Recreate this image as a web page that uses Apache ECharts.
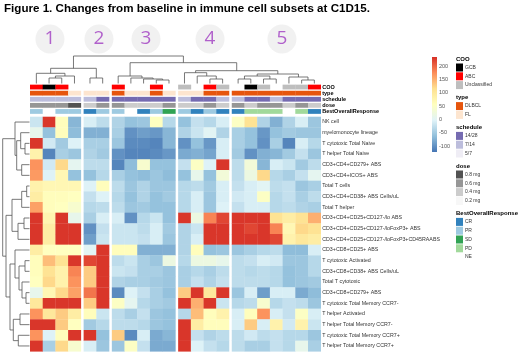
<!DOCTYPE html>
<html>
<head>
<meta charset="utf-8">
<script src="https://cdn.jsdelivr.net/npm/echarts@6/dist/echarts.min.js"></script>
<style>
  html, body { margin: 0; padding: 0; background: #fff; }
  #chart { width: 520px; height: 352px; }
</style>
</head>
<body>
<div id="chart"></div>
<script>
  const FONT = '"Liberation Sans", Arial, Helvetica, sans-serif';

  const titleText = 'Figure 1. Changes from baseline in immune cell subsets at C1D15.';

  const rowLabels = [
    'NK cell',
    'myelomonocyte lineage',
    'T cytotoxic Total Naive',
    'T helper Total Naive',
    'CD3+CD4+CD279+ ABS',
    'CD3+CD4+ICOS+ ABS',
    'Total T cells',
    'CD3+CD4+CD38+ ABS Cells/uL',
    'Total T helper',
    'CD3+CD4+CD25+CD127-/lo ABS',
    'CD3+CD4+CD25+CD127-/loFoxP3+ ABS',
    'CD3+CD4+CD25+CD127-/loFoxP3+CD45RAABS',
    'CD3+CD8+CD25+ ABS',
    'T cytotoxic Activated',
    'CD3+CD8+CD38+ ABS Cells/uL',
    'Total T cytotoxic',
    'CD3+CD8+CD279+ ABS',
    'T cytotoxic Total Memory CCR7-',
    'T helper Activated',
    'T helper Total Memory CCR7-',
    'T cytotoxic Total Memory CCR7+',
    'T helper Total Memory CCR7+'
  ];

  // column clusters, left to right
  const groupSizes = [4, 2, 5, 4, 7];
  const clusterLabels = ['1', '2', '3', '4', '5'];
  const clusterLabelAt = [1.57, 5.43, 9.13, 14.17, 19.83];

  // % change from baseline, one array per row (22 columns)
  const heatValues = [
    [-20, 230, 60, -70,  -10, -30,  -40, -60, -55, 55, -35,  -60, -25, -35, -10,  50, 110, -40, -75, -40, -10, -55],
    [10, -60, 60, -65,  -75, -75,  -45, -100, -90, -95, -70,  -40, -20, 0, -40,  -45, -60, -95, -60, -50, -55, -55],
    [230, -15, -50, -5,  -45, -45,  -55, -105, -105, -110, -70,  -100, -60, -95, -10,  -45, -60, -100, -45, -110, -10, -35],
    [80, -110, -45, -55,  -40, -50,  -100, -110, -110, -105, -95,  -80, -75, -85, -10,  -50, -100, -75, -70, -50, -25, -55],
    [170, -15, 120, 5,  -30, -30,  -110, -65, 40, -60, -60,  -25, 50, -5, 230,  -30, 30, -70, -10, -20, -50, -30],
    [165, -5, 70, -60,  -60, -35,  -45, -60, -65, -55, -65,  -60, 10, -60, 30,  -30, 20, 120, -35, -45, -25, 5],
    [80, 70, 70, 70,  -5, 60,  -30, -55, -40, -55, -55,  -35, -30, -50, -10,  -25, -10, 0, -30, -25, -55, -45],
    [90, 60, 60, 55,  -25, -5,  -35, -60, -40, -60, -50,  -35, -10, -55, -10,  -15, -10, 50, -35, -25, -45, -30],
    [160, 60, 55, 40,  -35, -30,  -30, -55, -50, -60, -60,  -35, -10, -55, -5,  -25, -10, -10, -35, -30, -40, -45],
    [230, 75, 230, 10,  -45, -10,  -10, -100, -35, -20, -60,  230, 20, 180, 220,  230, 230, 230, 110, 90, 110, 150],
    [230, 90, 230, 230,  -100, -25,  -20, -20, -30, -10, -50,  -40, -20, 230, 230,  230, 220, 230, 180, 70, 120, 110],
    [230, 90, 230, 230,  -90, -20,  -20, -20, -25, -10, -55,  -40, -10, 230, 230,  230, 230, 230, 220, 80, 100, 90],
    [90, 55, 55, 55,  0, 230,  60, 60, -75, -75, -75,  -40, 60, -60, -55,  -55, -45, -35, -30, -65, -65, -10],
    [60, 140, 110, 230,  220, 230,  -30, -20, -45, -55, 20,  -35, 20, 20, 10,  -30, -25, -10, -15, -55, -55, -35],
    [60, 110, 80, 180,  130, 230,  -20, -25, -45, -45, -55,  -45, -35, -45, -30,  -30, -35, -30, -35, -60, -55, -35],
    [55, 120, 80, 170,  130, 230,  -40, -45, -45, -50, -55,  -45, -25, -40, -25,  -30, -30, -30, -35, -60, -55, -50],
    [10, 70, 120, 160,  190, 230,  -105, -5, -25, -45, -60,  130, 230, 100, 230,  -55, -10, -90, -10, -10, -80, -65],
    [100, 230, 230, 230,  130, 230,  50, 5, -35, -45, -50,  230, 150, 230, -20,  -35, -30, 40, -35, -25, -30, -55],
    [170, 100, 130, 90,  60, -20,  -30, -45, -25, -55, -60,  -35, 140, 60, 80,  -10, 60, 170, -10, -25, 50, -10],
    [230, 230, 130, 55,  -50, -35,  -30, -30, -35, -55, -60,  230, 90, 60, 60,  -10, 130, -10, 80, -15, 80, -20],
    [170, -5, 60, 230,  230, -60,  130, -105, -10, -80, -70,  230, -25, -40, -30,  -30, -15, -30, -25, -35, -35, -55],
    [230, -45, 120, 40,  -10, -55,  -55, 50, -25, -80, -80,  230, -5, -25, -35,  -30, -45, -45, -25, -35, 10, -45]
  ];
  const heatMin = -122.5;
  const heatMax = 233.75;
  const barTicks = [-100, -50, 0, 50, 100, 150, 200];

  // column annotations
  const annotationNames = ['COO', 'type', 'schedule', 'dose', 'BestOverallResponse'];
  const cooVals = ['ABC', 'GCB', 'ABC', null, null, null, 'ABC', null, null, 'ABC', null,
    'Unclassified', null, 'ABC', 'Unclassified', null, 'GCB', 'Unclassified', null, 'Unclassified', 'Unclassified', 'ABC'];
  const typeVals = ['DLBCL', 'DLBCL', 'DLBCL', 'FL', 'FL', 'FL', 'DLBCL', 'FL', 'FL', 'DLBCL', 'FL',
    'FL', 'FL', 'DLBCL', 'DLBCL', 'DLBCL', 'DLBCL', 'DLBCL', 'DLBCL', 'DLBCL', 'DLBCL', 'DLBCL'];
  const scheduleVals = ['7/14', '7/14', '7/14', '7/14', '7/14', '14/28', '14/28', '14/28', '14/28', '14/28', '14/28',
    '7/14', '14/28', '14/28', '7/14', '7/14', '14/28', '14/28', '7/14', '14/28', '14/28', '14/28'];
  const doseVals = ['0.6 mg', '0.6 mg', '0.6 mg', '0.8 mg', '0.4 mg', '0.6 mg', '0.6 mg', '0.4 mg', '0.4 mg', '0.4 mg', '0.6 mg',
    '0.4 mg', '0.4 mg', '0.6 mg', '0.4 mg', '0.6 mg', '0.4 mg', '0.6 mg', '0.6 mg', '0.4 mg', '0.6 mg', '0.4 mg'];
  const borVals = ['PR', 'NE', 'PR', 'PR', 'CR', 'PR', 'PR', 'NE', 'CR', 'PR', 'SD',
    'PR', 'CR', 'PR', 'CR', 'CR', 'PD', 'PD', 'PD', 'NE', 'PD', 'CR'];

  const cooLevels = ['GCB', 'ABC', 'Unclassified'];
  const typeLevels = ['DLBCL', 'FL'];
  const scheduleLevels = ['14/28', '7/14', '5/7'];
  const doseLevels = ['0.8 mg', '0.6 mg', '0.4 mg', '0.2 mg'];
  const borLevels = ['CR', 'PR', 'SD', 'PD', 'NE'];

  // hclust-style merges: negative = leaf (1-based), positive = earlier merge; third value = height
  const colMerges = [
    [-2, -3, 5.5], [1, -4, 7.5], [-1, 2, 10.2], [-5, -6, 5.5], [3, 4, 15.2],
    [-10, -11, 3.5], [-9, 6, 4.5], [-8, 7, 5.5], [-7, 8, 7.5],
    [-14, -15, 4.5], [-13, 10, 7.5], [-12, 11, 10.8],
    [-16, -17, 4.5], [-18, -19, 4.5], [13, 14, 7.5], [-21, -22, 3.5], [-20, 16, 6.5], [15, 17, 9.5],
    [12, 18, 12.8], [9, 19, 20.8], [5, 20, 27.5]
  ];
  const rowMerges = [
    [-3, -4, 4.5], [-2, 1, 8.8], [-5, -6, 7.8], [2, 3, 12.8], [-1, 4, 14.5],
    [-7, -8, 2.8], [6, -9, 7.8], [-10, -11, 5.5], [8, -12, 11.5], [7, 9, 17.5],
    [-14, -15, 4.5], [-17, -18, 3.5], [-16, 12, 7.5], [11, 13, 10.5], [-13, 14, 14.5],
    [-19, -20, 9.5], [-21, -22, 11.2], [16, 17, 16.2], [15, 18, 19.5], [10, 19, 23.5], [5, 20, 26.8]
  ];

  // styles
  const heatPalette = ['#4575B4', '#91BFDB', '#E0F3F8', '#FFFFBF', '#FEE090', '#FC8D59', '#D73027'];
  const cooColors = ['#000000', '#FF0000', '#BEBEBE'];
  const typeColors = ['#E6550D', '#FDE5CF'];
  const scheduleColors = ['#756BB1', '#BCBDDC', '#EFEDF5'];
  const doseColors = ['#525252', '#969696', '#CCCCCC', '#F7F7F7'];
  const borColors = ['#3182BD', '#9ECAE1', '#31A354', '#A1D99B', '#FFFFFF'];

  // layout
  const GAP = 0.22;
  const colStart = [];
  groupSizes.forEach((n, g) => {
    for (let i = 0; i < n; i++) colStart.push(colStart.length + g * GAP);
  });
  const xMax = colStart.length + (groupSizes.length - 1) * GAP;
  const colCenter = colStart.map(x => x + 0.5);
  const rowCenter = rowLabels.map((_, i) => i + 0.5);

  const heatData = [];
  heatValues.forEach((row, r) => row.forEach((v, c) => heatData.push([colStart[c], r, v])));

  const annRows = [
    [cooVals, cooLevels, cooColors],
    [typeVals, typeLevels, typeColors],
    [scheduleVals, scheduleLevels, scheduleColors],
    [doseVals, doseLevels, doseColors],
    [borVals, borLevels, borColors]
  ];
  const annData = [];
  annRows.forEach((a, r) => {
    a[0].forEach((v, c) => {
      if (v == null) return;
      annData.push({ value: [colStart[c], r], itemStyle: { color: a[2][a[1].indexOf(v)] } });
    });
  });

  function dendroSegments(merges, leafPos) {
    const nodePos = [], nodeH = [], segs = [];
    const pos = id => id < 0 ? leafPos[-id - 1] : nodePos[id - 1];
    const hgt = id => id < 0 ? 0 : nodeH[id - 1];
    merges.forEach((m, k) => {
      segs.push([pos(m[0]), hgt(m[0]), pos(m[1]), hgt(m[1]), m[2]]);
      nodePos[k] = (pos(m[0]) + pos(m[1])) / 2;
      nodeH[k] = m[2];
    });
    return segs;
  }
  const colSegs = dendroSegments(colMerges, colCenter);
  const rowSegs = dendroSegments(rowMerges, rowCenter);

  const lineStyle = { stroke: '#555', lineWidth: 0.8, fill: null };

  const graphics = [];
  const legendBlocks = [
    ['COO', cooLevels, cooColors],
    ['type', typeLevels, typeColors],
    ['schedule', scheduleLevels, scheduleColors],
    ['dose', doseLevels, doseColors],
    ['BestOverallResponse', borLevels, borColors]
  ];
  let ly = 59;
  legendBlocks.forEach(b => {
    graphics.push({ type: 'text', x: 456, y: ly, style: { text: b[0], fontSize: 6, fontWeight: 'bold', fill: '#000', fontFamily: FONT, verticalAlign: 'middle' } });
    ly += 8.5;
    b[1].forEach((lv, i) => {
      graphics.push({ type: 'rect', shape: { x: 456, y: ly - 4, width: 7, height: 8 }, style: { fill: b[2][i] } });
      graphics.push({ type: 'text', x: 465, y: ly, style: { text: lv, fontSize: 5, fill: '#333', fontFamily: FONT, verticalAlign: 'middle' } });
      ly += 8.8;
    });
    ly += 3.7;
  });

  const chart = echarts.init(document.getElementById('chart'));
  const hiddenX = (gi, extra) => Object.assign({ type: 'value', gridIndex: gi, min: 0, max: xMax, show: false }, extra || {});

  chart.setOption({
    animation: false,
    textStyle: { fontFamily: FONT },
    title: {
      text: titleText, left: 4, top: 3, padding: 0,
      textStyle: { fontSize: 11.6, fontWeight: 'bold', color: '#000', fontFamily: FONT }
    },
    grid: [
      { left: 30, top: 116.7, width: 290.7, height: 234.6, outerBoundsMode: 'none' },
      { left: 30, top: 84, width: 290.7, height: 30.5, outerBoundsMode: 'none' },
      { left: 30, top: 25, width: 290.7, height: 58.5, outerBoundsMode: 'none' },
      { left: 2.7, top: 116.7, width: 26.8, height: 234.6, outerBoundsMode: 'none' },
      { left: 432, top: 52.67, width: 5, height: 106.67, outerBoundsMode: 'none' }
    ],
    xAxis: [
      hiddenX(0), hiddenX(1), hiddenX(2),
      { type: 'value', gridIndex: 3, min: 0, max: 26.8, inverse: true, show: false },
      { type: 'value', gridIndex: 4, min: 0, max: 1, show: false }
    ],
    yAxis: [
      {
        type: 'category', gridIndex: 0, data: rowLabels, inverse: true, position: 'right',
        axisLine: { show: false }, axisTick: { show: false }, splitLine: { show: false },
        axisLabel: { interval: 0, fontSize: 5.3, color: '#333', margin: 1.5 }
      },
      {
        type: 'category', gridIndex: 1, data: annotationNames, inverse: true, position: 'right',
        axisLine: { show: false }, axisTick: { show: false }, splitLine: { show: false },
        axisLabel: { interval: 0, fontSize: 5.5, fontWeight: 'bold', color: '#000', margin: 1.5 }
      },
      { type: 'value', gridIndex: 2, min: 0, max: 58.5, show: false },
      { type: 'value', gridIndex: 3, min: 0, max: rowLabels.length, inverse: true, show: false },
      {
        type: 'value', gridIndex: 4, min: -150, max: 250, interval: 50, position: 'right',
        axisLine: { show: false }, axisTick: { show: false }, splitLine: { show: false },
        axisLabel: {
          fontSize: 5.5, color: '#555', margin: 2,
          formatter: v => barTicks.indexOf(v) >= 0 ? String(v) : ''
        }
      }
    ],
    visualMap: [{
      type: 'continuous', show: false, min: heatMin, max: heatMax, dimension: 2, seriesIndex: 0,
      inRange: { color: heatPalette }
    }],
    graphic: graphics,
    series: [
      {
        type: 'custom', xAxisIndex: 0, yAxisIndex: 0, data: heatData, encode: { x: 0, y: 1 },
        renderItem: (params, api) => {
          const p = api.coord([api.value(0), api.value(1)]);
          const s = api.size([1, 1]);
          return { type: 'rect', shape: { x: p[0], y: p[1] - s[1] / 2, width: s[0] + 0.3, height: s[1] + 0.3 }, style: { fill: api.visual('color') } };
        }
      },
      {
        type: 'custom', xAxisIndex: 1, yAxisIndex: 1, data: annData, encode: { x: 0, y: 1 },
        renderItem: (params, api) => {
          const p = api.coord([api.value(0), api.value(1)]);
          const s = api.size([1, 1]);
          return { type: 'rect', shape: { x: p[0], y: p[1] - 2.4, width: s[0] + 0.3, height: 4.8 }, style: { fill: api.visual('color') } };
        }
      },
      {
        type: 'custom', xAxisIndex: 2, yAxisIndex: 2, data: colSegs, encode: { x: 0, y: 1 },
        renderItem: (params, api) => ({
          type: 'polyline',
          shape: { points: [
            api.coord([api.value(0), api.value(1)]), api.coord([api.value(0), api.value(4)]),
            api.coord([api.value(2), api.value(4)]), api.coord([api.value(2), api.value(3)])
          ] },
          style: lineStyle
        })
      },
      {
        type: 'custom', xAxisIndex: 3, yAxisIndex: 3, data: rowSegs, encode: { x: 1, y: 0 },
        renderItem: (params, api) => ({
          type: 'polyline',
          shape: { points: [
            api.coord([api.value(1), api.value(0)]), api.coord([api.value(4), api.value(0)]),
            api.coord([api.value(4), api.value(2)]), api.coord([api.value(3), api.value(2)])
          ] },
          style: lineStyle
        })
      },
      {
        type: 'scatter', xAxisIndex: 2, yAxisIndex: 2, symbol: 'circle', symbolSize: 29,
        data: clusterLabelAt.map(x => [x, 44.5]),
        itemStyle: { color: '#EDEDED' },
        label: {
          show: true, position: 'inside', fontSize: 19, color: '#A03CC2', fontFamily: '"Open Sans", sans-serif',
          formatter: p => clusterLabels[p.dataIndex]
        }
      },
      {
        type: 'custom', xAxisIndex: 4, yAxisIndex: 4, data: [[0, heatMin, heatMax]], encode: { x: 0, y: [1, 2] },
        renderItem: (params, api) => {
          const top = api.coord([0, api.value(2)]);
          const bot = api.coord([0, api.value(1)]);
          const w = api.size([1, 0])[0];
          return {
            type: 'rect', shape: { x: top[0], y: top[1], width: w, height: bot[1] - top[1] },
            style: { fill: new echarts.graphic.LinearGradient(0, 1, 0, 0,
              heatPalette.map((c, i) => ({ offset: i / (heatPalette.length - 1), color: c }))) }
          };
        }
      }
    ]
  });
</script>
</body>
</html>
